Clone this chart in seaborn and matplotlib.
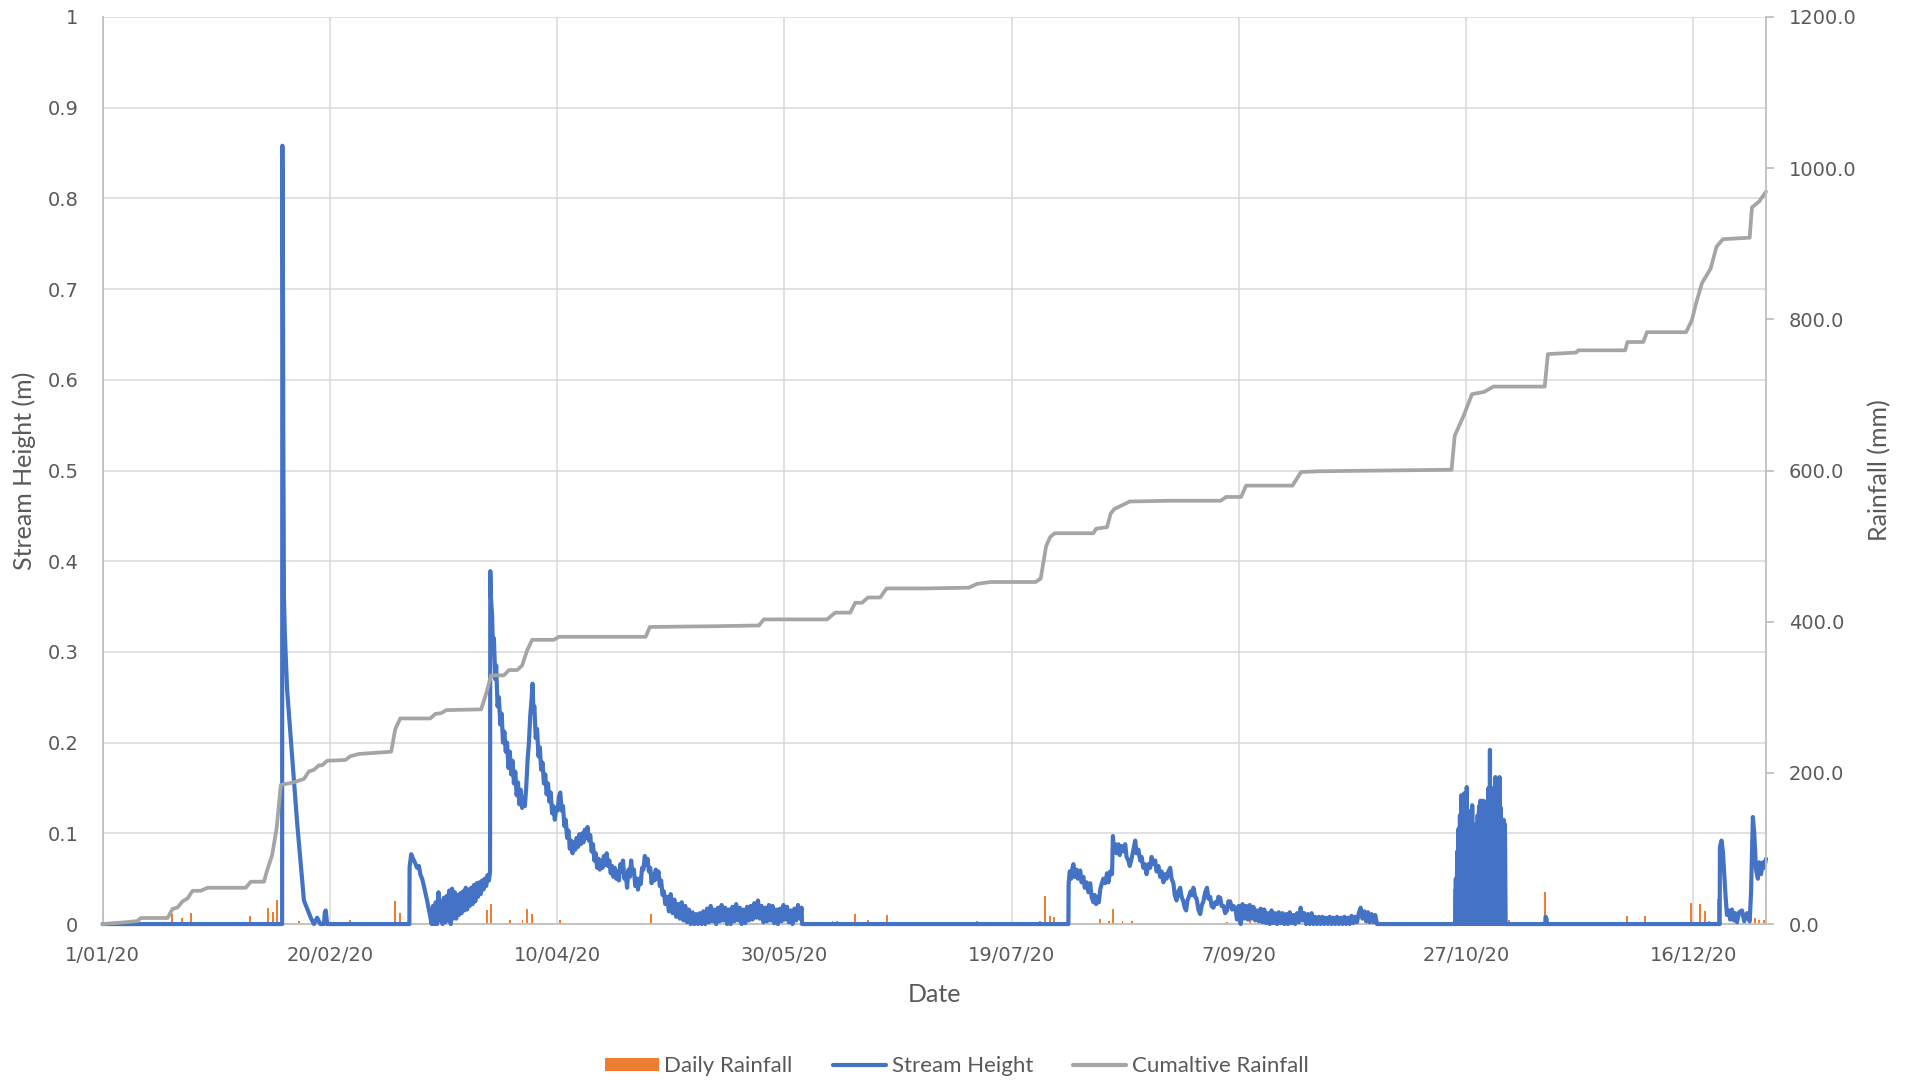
import numpy as np
import pandas as pd
import seaborn as sns
import matplotlib.pyplot as plt
from matplotlib.patches import Patch
from matplotlib.lines import Line2D

START = pd.Timestamp("2020-01-01")

# Stream height (m), as (day offset from 1 Jan 2020, height)
feb_event = [(0, 0.0), (39.5, 0.0), (39.55, 0.858), (39.65, 0.78), (39.75, 0.55),
             (39.9, 0.36), (40.1, 0.32), (40.6, 0.258), (41.4, 0.205), (42.1, 0.159),
             (42.8, 0.112), (43.6, 0.066), (44.3, 0.026), (45.0, 0.017), (45.8, 0.007),
             (46.5, 0.0), (47.2, 0.007), (47.9, 0.0), (48.7, 0.0), (48.9, 0.013),
             (49.1, 0.015), (49.4, 0.0)]

mar_rise = [(67.5, 0.0), (67.55, 0.063), (67.9, 0.077), (68.3, 0.072), (68.7, 0.068),
            (69.2, 0.062), (69.6, 0.064), (69.9, 0.055), (70.3, 0.05), (70.6, 0.044),
            (71.0, 0.035), (71.4, 0.026), (71.8, 0.016), (72.1, 0.008)]

# noisy stretches: readings every `step` days from `start`
mar_noise_start, mar_noise_step = 72.4, 0.3
mar_noise = [0.0, 0.02, 0.0, 0.024, 0.0, 0.035, 0.004, 0.025, 0.0, 0.029, 0.002,
             0.031, 0.004, 0.037, 0.0, 0.039, 0.006, 0.035, 0.006, 0.032, 0.01, 0.034,
             0.012, 0.036, 0.015, 0.04, 0.016, 0.038, 0.02, 0.04, 0.022, 0.043, 0.025,
             0.045, 0.03, 0.046, 0.033, 0.048, 0.038, 0.05, 0.042, 0.054, 0.048]

apr_decay = [(85.25, 0.058), (85.3, 0.389), (85.45, 0.36), (85.7, 0.34), (85.9, 0.3),
             (86.1, 0.315), (86.4, 0.27), (86.6, 0.285), (86.9, 0.24), (87.2, 0.25),
             (87.5, 0.22), (87.8, 0.232), (88.1, 0.2), (88.4, 0.212), (88.7, 0.19),
             (89.0, 0.2), (89.3, 0.172), (89.6, 0.19), (89.9, 0.165), (90.2, 0.18),
             (90.5, 0.155), (90.8, 0.168), (91.1, 0.142), (91.4, 0.156), (91.7, 0.132),
             (92.0, 0.148), (92.3, 0.128), (92.6, 0.14), (92.9, 0.13), (93.2, 0.15),
             (93.5, 0.18), (93.8, 0.2), (94.1, 0.23), (94.35, 0.245), (94.6, 0.265),
             (94.8, 0.235), (95.0, 0.24), (95.3, 0.205), (95.6, 0.215), (95.9, 0.185),
             (96.2, 0.195), (96.5, 0.17), (96.8, 0.178), (97.1, 0.155), (97.4, 0.165),
             (97.7, 0.143), (98.0, 0.155), (98.3, 0.135), (98.6, 0.145), (98.9, 0.122),
             (99.2, 0.13), (99.5, 0.115), (99.8, 0.128), (100.1, 0.125), (100.4, 0.14),
             (100.7, 0.145), (101.0, 0.125), (101.3, 0.13), (101.6, 0.108), (101.9, 0.115),
             (102.2, 0.095), (102.5, 0.103), (102.8, 0.083), (103.1, 0.092), (103.4, 0.078),
             (103.7, 0.09), (104.0, 0.082), (104.3, 0.095), (104.6, 0.085), (104.9, 0.099),
             (105.2, 0.088), (105.5, 0.1), (105.8, 0.09), (106.1, 0.104), (106.4, 0.095),
             (106.7, 0.107), (107.0, 0.092), (107.3, 0.098), (107.6, 0.08), (107.9, 0.088),
             (108.2, 0.07), (108.5, 0.078), (108.8, 0.062), (109.1, 0.072), (109.4, 0.06),
             (109.7, 0.07), (110.0, 0.062), (110.3, 0.075), (110.6, 0.065), (110.9, 0.078),
             (111.2, 0.064), (111.5, 0.07), (111.8, 0.056), (112.1, 0.064), (112.4, 0.052),
             (112.7, 0.062), (113.0, 0.05), (113.3, 0.058), (113.6, 0.048), (113.9, 0.066),
             (114.2, 0.058), (114.5, 0.07), (114.8, 0.05), (115.1, 0.055), (115.4, 0.04),
             (115.7, 0.06), (116.0, 0.052), (116.3, 0.07), (116.6, 0.055), (116.9, 0.06),
             (117.2, 0.042), (117.5, 0.05), (117.8, 0.038), (118.1, 0.05), (118.4, 0.044),
             (118.7, 0.062), (119.0, 0.06), (119.3, 0.075), (119.6, 0.065), (119.9, 0.072),
             (120.2, 0.058), (120.5, 0.062), (120.8, 0.045), (121.1, 0.055), (121.4, 0.048),
             (121.7, 0.06), (122.0, 0.05), (122.3, 0.058), (122.6, 0.042), (122.9, 0.048),
             (123.2, 0.032), (123.5, 0.036), (123.8, 0.022)]

may_tail_start, may_tail_step = 124.2, 0.4
may_tail = [0.03, 0.014, 0.033, 0.012, 0.027, 0.008, 0.022, 0.006, 0.024, 0.004,
            0.02, 0.002, 0.016, 0.0, 0.013, 0.0, 0.011, 0.0, 0.012, 0.0,
            0.014, 0.0, 0.017, 0.002, 0.02, 0.003, 0.016, 0.0, 0.018, 0.003,
            0.021, 0.004, 0.018, 0.0, 0.016, 0.0, 0.019, 0.003, 0.022, 0.004,
            0.018, 0.0, 0.016, 0.001, 0.019, 0.004, 0.02, 0.005, 0.023, 0.007,
            0.026, 0.006, 0.02, 0.002, 0.018, 0.003, 0.021, 0.004, 0.02, 0.001,
            0.016, 0.0, 0.017, 0.003, 0.021, 0.005, 0.019, 0.002, 0.015, 0.0,
            0.017, 0.004, 0.021, 0.006, 0.018]

aug_event = [(153.9, 0.0), (212.5, 0.0), (212.55, 0.044), (212.8, 0.058), (213.1, 0.05),
             (213.4, 0.062), (213.6, 0.066), (213.9, 0.052), (214.3, 0.06), (214.6, 0.05),
             (215.1, 0.059), (215.4, 0.046), (215.8, 0.052), (216.1, 0.04), (216.5, 0.046),
             (216.9, 0.035), (217.3, 0.045), (217.6, 0.03), (218.0, 0.024), (218.3, 0.032),
             (218.6, 0.022), (218.9, 0.03), (219.2, 0.024), (219.5, 0.038), (219.8, 0.044),
             (220.2, 0.05), (220.6, 0.045), (221.0, 0.056), (221.3, 0.046), (221.7, 0.058),
             (222.1, 0.055), (222.3, 0.097), (222.5, 0.08), (222.8, 0.088), (223.1, 0.078),
             (223.5, 0.088), (223.8, 0.076), (224.2, 0.086), (224.6, 0.08), (225.0, 0.088),
             (225.3, 0.074), (225.7, 0.07), (226.0, 0.064), (226.4, 0.072), (226.8, 0.082),
             (227.2, 0.092), (227.5, 0.078), (227.9, 0.082), (228.3, 0.07), (228.6, 0.074),
             (229.0, 0.062), (229.3, 0.066), (229.7, 0.055), (230.1, 0.066), (230.5, 0.062),
             (230.8, 0.074), (231.2, 0.066), (231.6, 0.07), (231.9, 0.058), (232.3, 0.064),
             (232.7, 0.052), (233.0, 0.058), (233.4, 0.046), (233.8, 0.055), (234.1, 0.05),
             (234.5, 0.058), (234.9, 0.062), (235.2, 0.05), (235.6, 0.045), (235.9, 0.032),
             (236.3, 0.026), (236.7, 0.036), (237.1, 0.04), (237.4, 0.03), (237.8, 0.025),
             (238.1, 0.018), (238.4, 0.015), (238.7, 0.026), (239.0, 0.03), (239.4, 0.036),
             (239.7, 0.032), (240.0, 0.04), (240.4, 0.03), (240.7, 0.028), (241.1, 0.016),
             (241.5, 0.011), (241.8, 0.02), (242.2, 0.025), (242.6, 0.035), (243.0, 0.04),
             (243.3, 0.028), (243.7, 0.03), (244.0, 0.02), (244.4, 0.018), (244.8, 0.024),
             (245.2, 0.022), (245.5, 0.03), (245.9, 0.029), (246.2, 0.02), (246.6, 0.02),
             (247.0, 0.012), (247.4, 0.015), (247.7, 0.025), (248.1, 0.025), (248.5, 0.016),
             (248.8, 0.02)]

sep_tail_start, sep_tail_step = 249.2, 0.4
sep_tail = [0.018, 0.005, 0.02, 0.0, 0.022, 0.006, 0.02, 0.005, 0.021, 0.006,
            0.019, 0.004, 0.015, 0.003, 0.017, 0.002, 0.016, 0.001, 0.012, 0.0,
            0.015, 0.001, 0.012, 0.0, 0.013, 0.001, 0.012, 0.0, 0.011, 0.0,
            0.013, 0.001, 0.01, 0.0, 0.012, 0.002, 0.018, 0.004, 0.012, 0.0,
            0.011, 0.0, 0.012, 0.0, 0.008, 0.0, 0.008, 0.0, 0.008, 0.0,
            0.007, 0.0, 0.008, 0.0, 0.007, 0.0, 0.008, 0.0, 0.007, 0.0,
            0.008, 0.0, 0.007, 0.0, 0.009, 0.001, 0.008, 0.002, 0.012, 0.018,
            0.006, 0.014, 0.003, 0.013, 0.002, 0.011, 0.002, 0.01]

# late-October burst: peaks every 0.3 days, each dropping back to zero between
oct_peak_start, oct_peak_step = 297.75, 0.3
oct_peaks = [0.05, 0.08, 0.105, 0.12, 0.142, 0.118, 0.144, 0.13, 0.151, 0.12,
             0.107, 0.125, 0.131, 0.11, 0.1, 0.107, 0.12, 0.13, 0.136, 0.124,
             0.136, 0.128, 0.134, 0.136, 0.15, 0.192, 0.15, 0.136, 0.14, 0.162,
             0.13, 0.145, 0.162, 0.128, 0.114, 0.115, 0.11]

dec_event = [(280.4, 0.0), (297.6, 0.0)]
nov_blip = [(317.4, 0.0), (317.5, 0.008), (317.7, 0.006), (317.8, 0.0)]
dec_rise = [(355.8, 0.0), (355.85, 0.085), (356.2, 0.092), (356.5, 0.08), (356.8, 0.055),
            (357.1, 0.03), (357.4, 0.01), (357.8, 0.015), (358.1, 0.005), (358.5, 0.016),
            (358.9, 0.004), (359.2, 0.012), (359.6, 0.002), (360.1, 0.013), (360.7, 0.015),
            (361.2, 0.003), (361.8, 0.012), (362.4, 0.003), (362.7, 0.035), (363.1, 0.118),
            (363.4, 0.1), (363.8, 0.06), (364.2, 0.05), (364.5, 0.068), (364.9, 0.055),
            (365.3, 0.068), (365.6, 0.062), (366.0, 0.072)]

# Cumulative rainfall (mm)
cum_rain = [(0, 0), (5.1, 2.4), (7.7, 4), (8.4, 8), (14.3, 8), (15.4, 20), (16.5, 22),
            (17.6, 30), (18.7, 34), (19.8, 44), (21.6, 44), (23.1, 48), (31.5, 48),
            (32.6, 56), (35.5, 56), (36.2, 71), (37.3, 91), (38.3, 127), (39.2, 184),
            (41.7, 187), (42.8, 189), (44.3, 192), (45.4, 202), (46.5, 204), (47.6, 210),
            (48.3, 210), (49.4, 216), (53.4, 217), (54.5, 222), (56.4, 225), (63.5, 228),
            (64.4, 258), (65.5, 272), (72.1, 272), (73.2, 278), (74.5, 279), (75.6, 283),
            (83.3, 284), (84.4, 305), (85.5, 329), (88.3, 329), (89.4, 336), (91.2, 336),
            (92.3, 342), (93.4, 362), (94.5, 376), (99.3, 376), (100.4, 380), (119.5, 380),
            (120.4, 393), (134.5, 394), (144.4, 395), (145.5, 403), (159.4, 403),
            (161.2, 412), (164.5, 412), (165.6, 425), (167.1, 425), (168.4, 432),
            (171.1, 432), (172.5, 444), (180.7, 444), (190.6, 445), (192.4, 450),
            (195.4, 452.5), (205.3, 452.5), (206.4, 457), (207.1, 482), (207.6, 500),
            (208.5, 512), (209.5, 517), (218.0, 517), (218.6, 523), (221.0, 525),
            (221.8, 543), (222.6, 549), (226.0, 559), (235.0, 560), (246.0, 560),
            (247.2, 565), (250.5, 565), (251.6, 580), (261.8, 580), (263.7, 598),
            (267.7, 599), (296.8, 601), (297.5, 646), (299.5, 673), (301.3, 701),
            (304.0, 704), (306.0, 711), (317.3, 711), (318.0, 754), (324.2, 756),
            (324.7, 759), (335.0, 759), (335.5, 770), (339.0, 770), (339.8, 783),
            (348.4, 783), (349.7, 799), (350.5, 819), (351.9, 848), (353.8, 867),
            (355.1, 896), (356.5, 906), (362.4, 908), (362.9, 948), (364.5, 956),
            (366.0, 969)]

# Daily rainfall (mm)
daily_rain = [(15.3, 13), (17.4, 8), (19.4, 14.5), (32.4, 10), (36.3, 21), (37.4, 16),
              (38.4, 32), (40.4, 2), (43.3, 4), (54.4, 6), (64.4, 31), (65.5, 14),
              (84.5, 18), (85.5, 26), (89.6, 6), (92.4, 6), (93.4, 20), (94.4, 13),
              (100.6, 5), (120.6, 13), (145.4, 6), (160.6, 3.5), (161.5, 3.5), (165.5, 13),
              (168.5, 6), (172.5, 11.5), (192.4, 4.4), (206.3, 4.4), (207.4, 37.5),
              (208.4, 11), (209.4, 9), (219.5, 6.6), (220.5, 2), (221.5, 3.5), (222.4, 20),
              (224.4, 4.4), (226.4, 4.4), (234.4, 2), (247.4, 3), (252.5, 5), (297.4, 46),
              (309.4, 6), (317.4, 42), (324.4, 2), (335.4, 10), (339.4, 10), (348.5, 2),
              (349.5, 28), (351.5, 27), (352.5, 17), (353.4, 3.5), (355.4, 33),
              (362.4, 26), (363.5, 8), (364.5, 5), (365.5, 5)]

tick_days = [0, 50, 100, 150, 200, 250, 300, 350]
tick_labels = ["1/01/20", "20/02/20", "10/04/20", "30/05/20", "19/07/20",
               "7/09/20", "27/10/20", "16/12/20"]
height_ticks = [0, 0.1, 0.2, 0.3, 0.4, 0.5, 0.6, 0.7, 0.8, 0.9, 1]
height_labels = ["0", "0.1", "0.2", "0.3", "0.4", "0.5", "0.6", "0.7", "0.8", "0.9", "1"]
rain_ticks = [0, 200, 400, 600, 800, 1000, 1200]


def regular(start, step, values):
    return [(start + i * step, v) for i, v in enumerate(values)]


def burst(start, step, peaks):
    pts = []
    for i, p in enumerate(peaks):
        pts.append((start + i * step - step / 2, 0.0))
        pts.append((start + i * step, p))
    pts.append((start + len(peaks) * step - step / 2, 0.0))
    return pts


stream = (feb_event + mar_rise + regular(mar_noise_start, mar_noise_step, mar_noise)
          + apr_decay + regular(may_tail_start, may_tail_step, may_tail)
          + aug_event + regular(sep_tail_start, sep_tail_step, sep_tail)
          + dec_event + burst(oct_peak_start, oct_peak_step, oct_peaks)
          + nov_blip + dec_rise)


def to_frame(pairs, col):
    d = pd.DataFrame(pairs, columns=["day", col])
    d["date"] = START + pd.to_timedelta(d["day"], unit="D")
    return d


df_stream = to_frame(stream, "height")
df_cum = to_frame(cum_rain, "mm")
df_daily = to_frame(daily_rain, "mm")

BLUE, ORANGE, GREY = "#4472C4", "#ED7D31", "#A5A5A5"
TXT, AXIS, GRID = "#595959", "#BFBFBF", "#D9D9D9"
TITLE_FONT = ["Lato", "DejaVu Sans"]

sns.set_style("white")
plt.rcParams["font.family"] = ["DejaVu Sans"]

fig, ax = plt.subplots(figsize=(19.14, 10.8), dpi=100)
fig.subplots_adjust(left=0.0536, right=0.9227, top=0.9843, bottom=0.1444)
ax_bar = ax.twinx()
ax_cum = ax.twinx()
ax_bar.set_zorder(0)
ax.set_zorder(1)
ax_cum.set_zorder(2)
ax.patch.set_visible(False)

# daily rainfall bars (bottom layer)
ax_bar.bar(df_daily["date"], df_daily["mm"], width=pd.Timedelta(hours=10),
           color=ORANGE, linewidth=0)
ax_bar.set_ylim(0, 1200)
ax_bar.yaxis.set_visible(False)
for s in ax_bar.spines.values():
    s.set_visible(False)

# stream height
sns.lineplot(data=df_stream, x="date", y="height", ax=ax, color=BLUE, lw=3.0,
             estimator=None, sort=False)
ax.lines[-1].set_clip_on(False)
ax.lines[-1].set_zorder(3)

# cumulative rainfall
sns.lineplot(data=df_cum, x="date", y="mm", ax=ax_cum, color=GREY, lw=2.7,
             estimator=None, sort=False)
ax_cum.lines[-1].set_clip_on(False)

ax.set_xlim(START, START + pd.Timedelta(days=366))
ax.set_ylim(0, 1)
ax.set_xticks([START + pd.Timedelta(days=d) for d in tick_days])
ax.set_xticklabels(tick_labels)
ax.set_yticks(height_ticks)
ax.set_yticklabels(height_labels)
ax.tick_params(axis="x", length=0, pad=15.5, labelsize=14, labelcolor=TXT)
ax.tick_params(axis="y", length=0, pad=17.5, labelsize=14, labelcolor=TXT)
ax.grid(True, color=GRID, lw=1.1)
ax.set_axisbelow(True)
for side in ["top", "right"]:
    ax.spines[side].set_visible(False)
for side in ["left", "bottom"]:
    ax.spines[side].set_color(AXIS)
    ax.spines[side].set_linewidth(1.3)

ax.set_xlabel("Date", fontsize=18, color=TXT, family=TITLE_FONT, va="center")
ax.xaxis.set_label_coords(0.5, -0.078)
ax.set_ylabel("Stream Height (m)", fontsize=18, color=TXT, family=TITLE_FONT, va="center")
ax.yaxis.set_label_coords(-0.047, 0.5)

ax_cum.set_ylim(0, 1200)
ax_cum.set_yticks(rain_ticks)
ax_cum.set_yticklabels([f"{v:.1f}" for v in rain_ticks])
ax_cum.tick_params(axis="y", length=6, width=1.3, color=AXIS, pad=10.5,
                   labelsize=14, labelcolor=TXT)
for side in ["top", "left", "bottom"]:
    ax_cum.spines[side].set_visible(False)
ax_cum.spines["right"].set_color(AXIS)
ax_cum.spines["right"].set_linewidth(1.3)
ax_cum.set_ylabel("Rainfall (mm)", fontsize=18, color=TXT, family=TITLE_FONT, va="center")
ax_cum.yaxis.set_label_coords(1.0685, 0.5)
ax_cum.set_xlabel("")

handles = [Patch(facecolor=ORANGE, edgecolor="none"),
           Line2D([], [], color=BLUE, lw=3.0),
           Line2D([], [], color=GREY, lw=3.0)]
fig.legend(handles, ["Daily Rainfall", "Stream Height", "Cumaltive Rainfall"],
           loc="center", bbox_to_anchor=(0.5, 0.0125), ncol=3, frameon=False,
           prop={"family": TITLE_FONT, "size": 16}, labelcolor=TXT,
           handlelength=2.4, handleheight=0.5, handletextpad=0.25, columnspacing=1.8)

fig.savefig("out.png", dpi=100)
